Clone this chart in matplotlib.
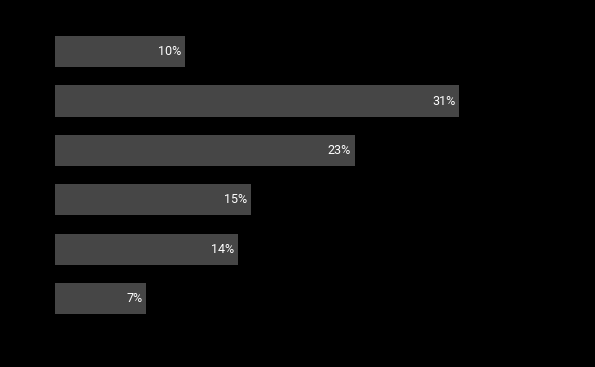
import matplotlib.pyplot as plt

values = [10, 31, 23, 15, 14, 7]
labels = ["10%", "31%", "23%", "15%", "14%", "7%"]

fig = plt.figure(figsize=(5.95, 3.67), dpi=100, facecolor="black")
ax = fig.add_axes([55 / 595, 0.119, 540 / 595, 0.8076], facecolor="black")

pos = list(range(len(values)))
ax.barh(pos, values, height=0.63, color="#464646")

for p, v, lab in zip(pos, values, labels):
    ax.annotate(lab, (v, p), xytext=(-4, 0), textcoords="offset pixels",
                ha="right", va="center", color="white",
                fontsize=9, family=["Roboto", "DejaVu Sans"])

ax.set_xlim(0, 538 / 13)
ax.set_ylim(5.5, -0.5)
ax.axis("off")

fig.savefig("out.png", dpi=100, facecolor="black")
